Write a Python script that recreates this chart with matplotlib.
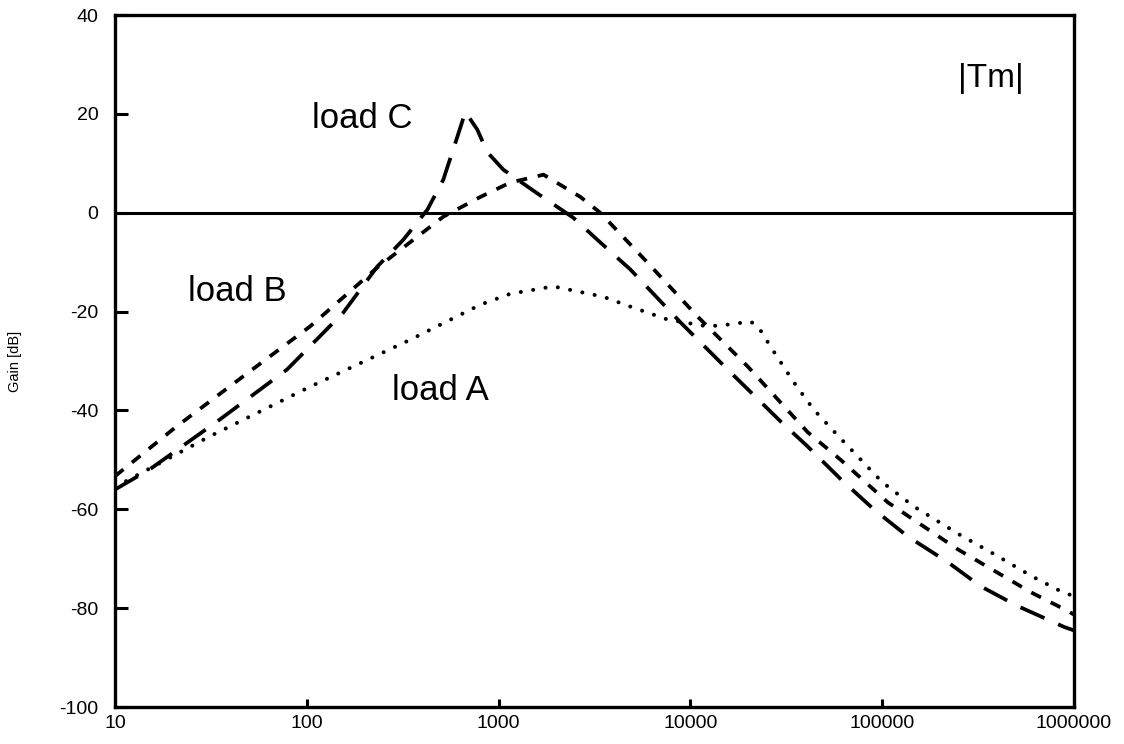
import matplotlib
matplotlib.use("Agg")
from matplotlib import pyplot as plt
from matplotlib.ticker import FixedLocator, FixedFormatter, NullLocator

plt.rcParams['font.family'] = ['Liberation Sans', 'DejaVu Sans']

# load A (dotted)
freq_a = [10, 31, 104, 346, 804, 1150, 1930, 3520, 4870, 7600, 12300, 16000,
          20600, 22700, 26200, 34600, 43900, 60800, 100000, 146000, 250000,
          401000, 600000, 855000, 1000000]
gain_a = [-55.5, -45.3, -35.2, -25.7, -18.6, -16.4, -14.9, -17.0, -19.0, -21.6,
          -23.0, -22.6, -22.0, -23.2, -27.1, -34.3, -39.8, -45.7, -54.5, -59.4,
          -65.0, -69.5, -73.5, -76.6, -77.6]

# load B (short dashes)
freq_b = [10, 21, 46.6, 104, 233, 515, 804, 1150, 1714, 2670, 3390, 5980,
          10900, 19900, 40900, 60800, 107000, 248000, 597000, 931000, 1000000]
gain_b = [-53.3, -43.2, -33.1, -23.0, -11.1, -0.8, 3.2, 6.1, 7.7, 3.2, 0.0,
          -10.1, -21.0, -31.1, -44.4, -50.0, -58.6, -68.1, -76.8, -80.6, -81.3]

# load C (long dashes)
freq_c = [10, 15.2, 35.3, 79, 155, 233, 318, 425, 515, 610, 671, 775, 871,
          1060, 1580, 2450, 3280, 4870, 8890, 16200, 29500, 40900, 60800,
          90400, 136000, 220000, 327000, 510000, 888000, 1000000]
gain_c = [-56.0, -51.9, -41.8, -31.7, -20.2, -10.9, -5.5, 0.6, 6.7, 15.4, 20.4,
          16.8, 12.3, 8.7, 4.0, -1.0, -5.5, -11.5, -22.2, -32.3, -42.2, -47.3,
          -53.9, -60.0, -65.5, -70.7, -75.6, -79.6, -83.8, -84.5]

x_ticks = [10, 100, 1000, 10000, 100000, 1000000]
x_labels = ["10", "100", "1000", "10000", "100000", "1000000"]
y_ticks = [-100, -80, -60, -40, -20, 0, 20, 40]

fig = plt.figure(figsize=(11.24, 7.44), dpi=100)
ax = fig.add_axes([0.1023, 0.0497, 0.8532, 0.9301])

ax.axhline(0, color='black', lw=2.2)
ax.plot(freq_a, gain_a, color='black', lw=2.9, dashes=(0.01, 3.1),
        dash_capstyle='round')
ax.plot(freq_b, gain_b, color='black', lw=2.7, dashes=(2.9, 2.9),
        dash_capstyle='butt')
ax.plot(freq_c, gain_c, color='black', lw=2.7, dashes=(7.0, 4.0),
        dash_capstyle='butt')

ax.set_xscale('log')
ax.set_xlim(10, 1000000)
ax.set_ylim(-100, 40)
ax.xaxis.set_major_locator(FixedLocator(x_ticks))
ax.xaxis.set_major_formatter(FixedFormatter(x_labels))
ax.xaxis.set_minor_locator(NullLocator())
ax.set_yticks(y_ticks)
ax.set_yticklabels([str(v) for v in y_ticks])

for s in ax.spines.values():
    s.set_linewidth(2.4)
ax.tick_params(axis='y', direction='in', length=9, width=2.2, pad=12,
               labelsize=14, right=False)
ax.tick_params(axis='x', direction='in', length=6, width=2.2, pad=6,
               labelsize=14, top=False)

ax.set_ylabel("Gain [dB]", fontsize=10.5)
ax.yaxis.set_label_coords(-0.097, 0.5)

ax.text(194, 19.0, "load C", fontsize=25, ha='center', va='center')
ax.text(43.4, -16.0, "load B", fontsize=25, ha='center', va='center')
ax.text(497, -36.0, "load A", fontsize=25, ha='center', va='center')
ax.text(369000, 27.2, "|Tm|", fontsize=24, ha='center', va='center')

fig.savefig("out.png", dpi=100)
